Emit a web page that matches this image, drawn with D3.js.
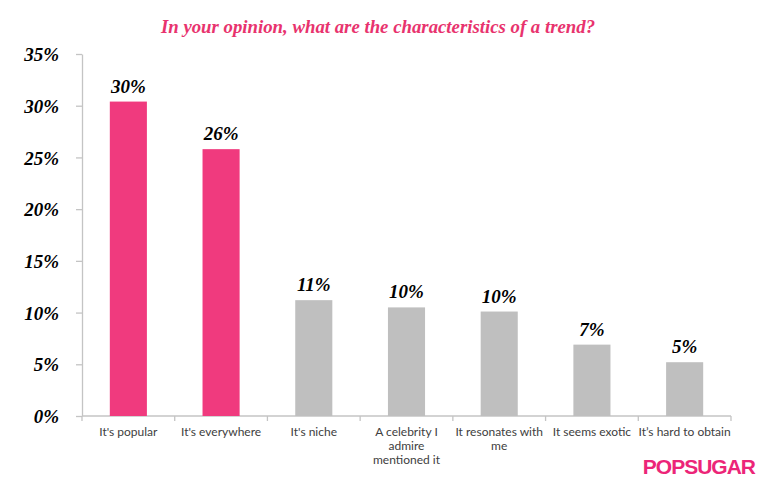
<!DOCTYPE html>
<html>
<head>
<meta charset="utf-8">
<script src="https://cdn.jsdelivr.net/npm/d3@7"></script>
<style>
  body { margin: 0; background: #fff; }
  .y-axis text { font-family: "Liberation Serif", serif; font-weight: bold; font-style: italic; font-size: 19px; fill: #000; }
  .value-label { font-family: "Liberation Serif", serif; font-weight: bold; font-style: italic; font-size: 19px; fill: #000; }
  .x-label { font-family: Lato, sans-serif; font-size: 12px; fill: #404040; }
</style>
</head>
<body>
<div id="chart"></div>
<script>
const categories = ["popular", "everywhere", "niche", "celebrity", "resonates", "exotic", "hard"];
const tickLabels = [
    ["It's popular"],
    ["It's everywhere"],
    ["It's niche"],
    ["A celebrity I", "admire", "mentioned it"],
    ["It resonates with", "me"],
    ["It seems exotic"],
    ["It\u2019s hard to obtain"]
];
const values = [30.4, 25.8, 11.2, 10.5, 10.1, 6.9, 5.2];
const valueLabels = ["30%", "26%", "11%", "10%", "10%", "7%", "5%"];
const highlighted = [true, true, false, false, false, false, false];
const yTicks = [0, 5, 10, 15, 20, 25, 30, 35];

const width = 760, height = 480;
const margin = { top: 54, right: 29, bottom: 64, left: 82 };
const pink = "#f03a7e", gray = "#bfbfbf", axisColor = "#c4c4c4";

const svg = d3.select("#chart")
    .append("svg")
    .attr("width", width)
    .attr("height", height);

const x = d3.scaleBand()
    .domain(categories)
    .range([margin.left, width - margin.right])
    .paddingInner(0.6)
    .paddingOuter(0.3);

const y = d3.scaleLinear()
    .domain([0, 35])
    .range([height - margin.bottom, margin.top]);

// title
svg.append("text")
    .attr("x", 378)
    .attr("y", 33)
    .attr("text-anchor", "middle")
    .style("font-family", "Liberation Serif, serif")
    .style("font-weight", "bold")
    .style("font-style", "italic")
    .style("font-size", "18.8px")
    .style("fill", "#e8336e")
    .text("In your opinion, what are the characteristics of a trend?");

// y axis
const yAxis = svg.append("g")
    .attr("class", "y-axis")
    .attr("transform", `translate(${margin.left},0)`)
    .call(d3.axisLeft(y).tickValues(yTicks).tickFormat(d => d + "%").tickSize(6).tickSizeOuter(0).tickPadding(17));
yAxis.selectAll("line, path").attr("stroke", axisColor).attr("stroke-width", 1.3);
yAxis.selectAll("text").attr("dy", "0.35em");

// x axis line and category boundary ticks
const gap = (x.step() - x.bandwidth()) / 2;
const boundaries = categories.map(c => x(c) - gap).concat([x(categories[categories.length - 1]) + x.bandwidth() + gap]);
const xAxis = svg.append("g").attr("class", "x-axis");
xAxis.append("line")
    .attr("x1", margin.left)
    .attr("x2", boundaries[boundaries.length - 1])
    .attr("y1", y(0))
    .attr("y2", y(0))
    .attr("stroke", axisColor)
    .attr("stroke-width", 1.3);
xAxis.selectAll(".tick-mark")
    .data(boundaries)
    .enter()
    .append("line")
    .attr("x1", d => d)
    .attr("x2", d => d)
    .attr("y1", y(0))
    .attr("y2", y(0) + 5)
    .attr("stroke", axisColor)
    .attr("stroke-width", 1.3);

// bars
svg.selectAll(".bar")
    .data(categories)
    .enter()
    .append("rect")
    .attr("class", "bar")
    .attr("x", d => x(d))
    .attr("width", x.bandwidth())
    .attr("y", (d, i) => y(values[i]))
    .attr("height", (d, i) => y(0) - y(values[i]))
    .attr("fill", (d, i) => highlighted[i] ? pink : gray);

// value labels
svg.selectAll(".value-label")
    .data(categories)
    .enter()
    .append("text")
    .attr("class", "value-label")
    .attr("x", d => x(d) + x.bandwidth() / 2)
    .attr("y", (d, i) => y(values[i]) - 9)
    .attr("text-anchor", "middle")
    .text((d, i) => valueLabels[i]);

// category labels
categories.forEach((c, i) => {
    const t = svg.append("text")
        .attr("class", "x-label")
        .attr("text-anchor", "middle")
        .attr("x", x(c) + x.bandwidth() / 2)
        .attr("y", y(0) + 20);
    tickLabels[i].forEach((line, j) => {
        t.append("tspan")
            .attr("x", x(c) + x.bandwidth() / 2)
            .attr("dy", j === 0 ? 0 : 14)
            .text(line);
    });
});

// logo
svg.append("text")
    .attr("x", 755)
    .attr("y", 474)
    .attr("text-anchor", "end")
    .style("font-family", "Liberation Sans, sans-serif")
    .style("font-weight", "bold")
    .style("font-size", "21px")
    .style("letter-spacing", "-1px")
    .style("fill", "#ec2578")
    .text("POPSUGAR");
</script>
</body>
</html>
